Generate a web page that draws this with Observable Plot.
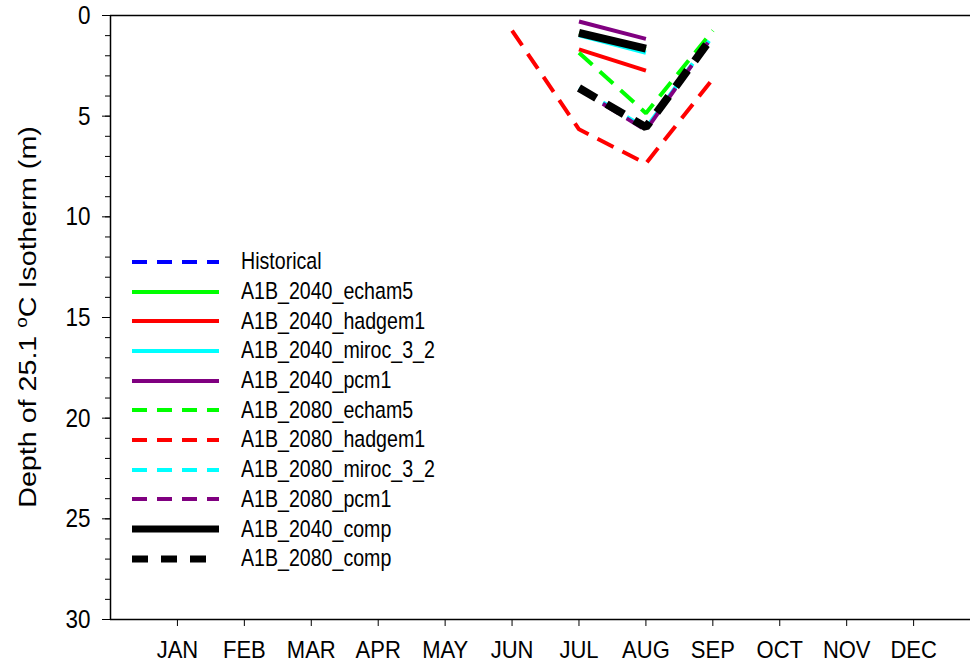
<!DOCTYPE html>
<html>
<head>
<meta charset="utf-8">
<script src="https://cdn.jsdelivr.net/npm/d3@7"></script>
<script src="https://cdn.jsdelivr.net/npm/@observablehq/plot@0.6"></script>
<style>
  html, body { margin: 0; padding: 0; background: #fff; overflow: hidden; }
  #wrap { position: relative; width: 970px; height: 665px; }
  #legend { position: absolute; left: 130px; top: 247px; font-family: "Liberation Sans", Arial, sans-serif; font-size: 19.6px; color: #000; }
  .row { display: flex; align-items: center; height: 29.7px; }
  .row svg { display: block; margin-right: 21px; }
  .row span { display: inline-block; transform: scaleY(1.18); transform-origin: 50% 55%; }
</style>
</head>
<body>
<div id="wrap"><div id="legend"></div></div>
<script>
// ---- data ----
const monthLabels = ["JAN","FEB","MAR","APR","MAY","JUN","JUL","AUG","SEP","OCT","NOV","DEC"];
const depthTicks = [0, 5, 10, 15, 20, 25, 30];

const seriesNames = ["Historical","A1B_2040_echam5","A1B_2040_hadgem1","A1B_2040_miroc_3_2","A1B_2040_pcm1",
  "A1B_2080_echam5","A1B_2080_hadgem1","A1B_2080_miroc_3_2","A1B_2080_pcm1","A1B_2040_comp","A1B_2080_comp"];

const monthsHistorical = [];
const depthHistorical = [];
const months2040 = [7, 8];
const depth2040_echam5 = [0.88, 1.66];
const depth2040_hadgem1 = [1.68, 2.74];
const depth2040_miroc = [0.98, 1.85];
const depth2040_pcm1 = [0.3, 1.16];
const depth2040_comp = [0.86, 1.65];
const months2080 = [7, 8, 9];
const months2080_hadgem1 = [6, 7, 8, 9];
const depth2080_echam5 = [1.85, 4.85, 0.75];
const depth2080_hadgem1 = [0.75, 5.65, 7.35, 3.15];
const depth2080_miroc = [3.6, 5.6, 1.0];
const depth2080_pcm1 = [3.65, 5.7, 1.0];
const depth2080_comp = [3.6, 5.55, 1.02];

// ---- styles ----
const seriesColors = ["#0000ff","#00ff00","#ff0000","#00ffff","#800080","#00ff00","#ff0000","#00ffff","#800080","#000000","#000000"];
const seriesDash = [1,0,0,0,0,1,1,1,1,0,2];
const plotDash = ["none", "18,10", "20,12"];
const legendDash = ["none", "15,10", "16,13"];
const seriesWidth = [4,4,4,4,4,4,4,4,4,8,8];
const legendWidth = [4,4,4,4,4,4,4,4,4,7,7];

const seriesMonths = [monthsHistorical, months2040, months2040, months2040, months2040,
  months2080, months2080_hadgem1, months2080, months2080, months2040, months2080];
const seriesDepth = [depthHistorical, depth2040_echam5, depth2040_hadgem1, depth2040_miroc, depth2040_pcm1,
  depth2080_echam5, depth2080_hadgem1, depth2080_miroc, depth2080_pcm1, depth2040_comp, depth2080_comp];

const lineMarks = seriesNames.map((name, i) => {
  const rows = seriesMonths[i].map((m, j) => ({month: m, depth: seriesDepth[i][j]}));
  return Plot.line(rows, {
    x: "month", y: "depth",
    stroke: seriesColors[i],
    strokeWidth: seriesWidth[i],
    strokeDasharray: plotDash[seriesDash[i]],
    strokeLinecap: "butt",
    strokeLinejoin: "miter"
  });
});

const font = "'Liberation Sans', Arial, sans-serif";

const chart = Plot.plot({
  width: 970,
  height: 665,
  marginLeft: 110,
  marginRight: 0,
  marginTop: 15,
  marginBottom: 46,
  style: {fontFamily: font, background: "#fff", color: "#000"},
  x: {domain: [0, 12.85], axis: null},
  y: {domain: [0, 30], reverse: true, axis: null},
  marks: [
    ...lineMarks,
    Plot.ruleY([0], {stroke: "#000", strokeWidth: 1.5}),
    Plot.ruleY([30], {stroke: "#000", strokeWidth: 1.5}),
    Plot.ruleX([0], {stroke: "#000", strokeWidth: 1.5}),
    Plot.axisY({ticks: d3.range(0, 31), tickSize: 5, tickFormat: () => "", label: null, stroke: "#000"}),
    Plot.axisY({ticks: depthTicks, tickSize: 8, tickPadding: 12, fontSize: 22.5, label: null, fontFamily: font, stroke: "#000", fill: "#000"}),
    Plot.axisX({ticks: d3.range(1, 13), tickFormat: i => monthLabels[i - 1], tickSize: 7, tickPadding: 15, fontSize: 22, label: null, fontFamily: font, stroke: "#000", fill: "#000"})
  ]
});

const wrap = document.getElementById("wrap");
wrap.insertBefore(chart, wrap.firstChild);

// stretch tick labels vertically like the reference
function stretchText(node, k) {
  const el = d3.select(node);
  const tr = el.attr("transform");
  if (tr) {
    el.attr("transform", tr + ` scale(1,${k})`);
  } else {
    const x = +el.attr("x") || 0, y = +el.attr("y") || 0;
    el.attr("x", null).attr("y", null).attr("transform", `translate(${x},${y}) scale(1,${k})`);
  }
}
const svg = d3.select(chart);
svg.selectAll("text").each(function () {
  const s = this.textContent.trim();
  if (s === "") return;
  if (monthLabels.includes(s)) stretchText(this, 1.08);
  else if (/^\d+$/.test(s)) stretchText(this, 1.18);
});

// y-axis title with superscript
const t = svg.append("text")
  .attr("transform", "translate(36,317) rotate(-90) scale(1.18,1)")
  .attr("text-anchor", "middle")
  .attr("font-family", font)
  .attr("font-size", 24.3)
  .attr("fill", "#000");
t.append("tspan").text("Depth of 25.1 ");
t.append("tspan").attr("font-size", 16).attr("dy", -9).text("o");
t.append("tspan").attr("dy", 9).text("C Isotherm (m)");

// legend
const legend = d3.select("#legend");
seriesNames.forEach((name, i) => {
  const row = legend.append("div").attr("class", "row");
  const s = row.append("svg").attr("width", 90).attr("height", 12);
  s.append("line")
    .attr("x1", 2).attr("x2", seriesDash[i] === 2 ? 78 : 89)
    .attr("y1", 6).attr("y2", 6)
    .attr("stroke", seriesColors[i])
    .attr("stroke-width", legendWidth[i])
    .attr("stroke-dasharray", legendDash[seriesDash[i]] === "none" ? null : legendDash[seriesDash[i]]);
  row.append("span").text(name);
});
</script>
</body>
</html>
